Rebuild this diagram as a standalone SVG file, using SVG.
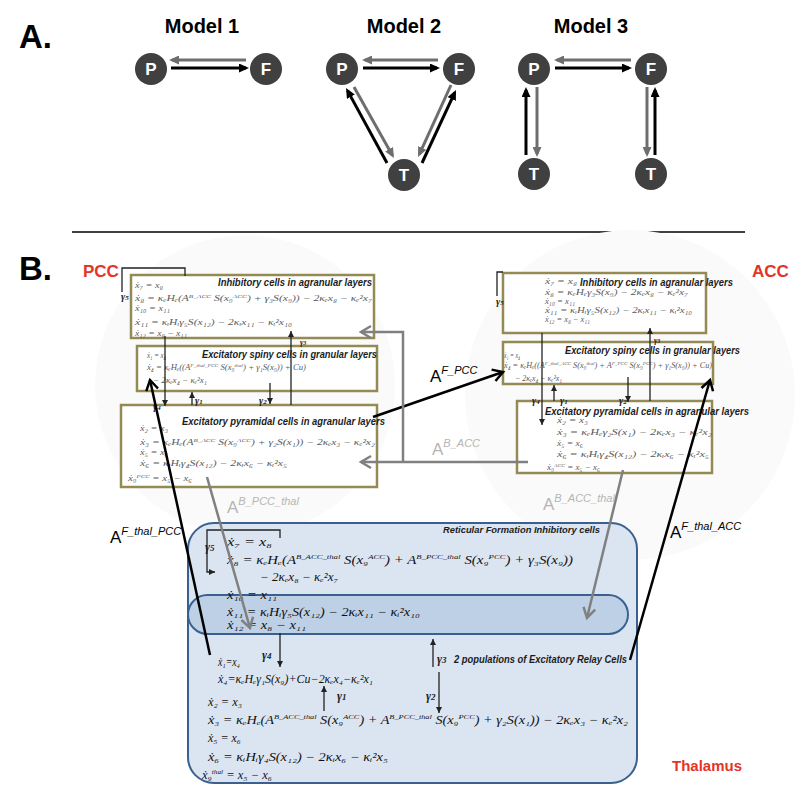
<svg xmlns="http://www.w3.org/2000/svg" width="800" height="803" viewBox="0 0 800 803">
<defs>
<style>
.lbl{font-family:"Liberation Sans",Arial,sans-serif;font-weight:bold;fill:#000}
.node circle{fill:#404040}
.node text{font-family:"Liberation Sans",Arial,sans-serif;font-weight:bold;font-size:17px;fill:#fff;text-anchor:middle}
.ak{stroke:#000;stroke-width:3;fill:none}
.ag{stroke:#6e6e6e;stroke-width:3;fill:none}
.box{fill:#fff;stroke:#948a54;stroke-width:2.5}
.ttl{font-family:"Liberation Sans",Arial,sans-serif;font-weight:bold;font-style:italic;fill:#1c1c1c}
.eq{font-family:"Liberation Serif","DejaVu Serif",serif;font-style:italic;fill:#5a5a5a;font-size:8px}
.eqT{font-family:"Liberation Serif","DejaVu Serif",serif;font-style:italic;fill:#111;font-size:12px}
.gm{font-family:"Liberation Serif","DejaVu Serif",serif;font-style:italic;font-weight:bold;fill:#222}
.thin{stroke:#222;stroke-width:1.3;fill:none}
.bk{stroke:#000;stroke-width:2.5;fill:none}
.gr{stroke:#808080;stroke-width:2.5;fill:none}
.red{font-family:"Liberation Sans",Arial,sans-serif;font-weight:bold;fill:#e3342a}
.Ab{font-family:"Liberation Sans",Arial,sans-serif;fill:#000}
.Ag{font-family:"Liberation Sans",Arial,sans-serif;fill:#b5b5b5}
</style>
<marker id="tk" viewBox="0 0 10 9" refX="7" refY="4.5" markerWidth="10" markerHeight="9" markerUnits="userSpaceOnUse" orient="auto"><path d="M0,0 L10,4.5 L0,9 z" fill="#000"/></marker>
<marker id="tg" viewBox="0 0 10 9" refX="7" refY="4.5" markerWidth="10" markerHeight="9" markerUnits="userSpaceOnUse" orient="auto"><path d="M0,0 L10,4.5 L0,9 z" fill="#6e6e6e"/></marker>
<marker id="ck" viewBox="-2 -2 16 16" refX="11" refY="6" markerWidth="16" markerHeight="16" markerUnits="userSpaceOnUse" orient="auto"><path d="M1,0 L11,6 L1,12" fill="none" stroke="#000" stroke-width="2.5"/></marker>
<marker id="cg" viewBox="-2 -2 16 16" refX="11" refY="6" markerWidth="16" markerHeight="16" markerUnits="userSpaceOnUse" orient="auto"><path d="M1,0 L11,6 L1,12" fill="none" stroke="#808080" stroke-width="2.5"/></marker>
<marker id="sm" viewBox="0 0 6 6" refX="6" refY="3" markerWidth="6" markerHeight="6" markerUnits="userSpaceOnUse" orient="auto"><path d="M0,0 L6,3 L0,6 z" fill="#222"/></marker>
</defs>
<rect width="800" height="803" fill="#fff"/>

<!-- Part A -->
<text class="lbl" x="19" y="48" font-size="33">A.</text>
<text class="lbl" x="202" y="33" font-size="20" text-anchor="middle">Model 1</text>
<text class="lbl" x="404" y="33" font-size="20" text-anchor="middle">Model 2</text>
<text class="lbl" x="591" y="33" font-size="20" text-anchor="middle">Model 3</text>

<g id="m1-P" class="node"><circle cx="151" cy="69" r="16"/><text x="151" y="75">P</text></g>
<g id="m1-F" class="node"><circle cx="266" cy="69" r="16"/><text x="266" y="75">F</text></g>
<g id="m2-P" class="node"><circle cx="342" cy="69" r="16"/><text x="342" y="75">P</text></g>
<g id="m2-F" class="node"><circle cx="459" cy="69" r="16"/><text x="459" y="75">F</text></g>
<g id="m2-T" class="node"><circle cx="404" cy="175" r="16"/><text x="404" y="181">T</text></g>
<g id="m3-P" class="node"><circle cx="534" cy="69" r="16"/><text x="534" y="75">P</text></g>
<g id="m3-F" class="node"><circle cx="651" cy="69" r="16"/><text x="651" y="75">F</text></g>
<g id="m3-T1" class="node"><circle cx="534" cy="174" r="16"/><text x="534" y="180">T</text></g>
<g id="m3-T2" class="node"><circle cx="651" cy="174" r="16"/><text x="651" y="180">T</text></g>

<line x1="72" y1="232" x2="745" y2="232" stroke="#000" stroke-width="1.5"/>

<!-- Part B -->
<text class="lbl" x="19" y="280" font-size="33">B.</text>
<circle cx="245" cy="385" r="150" fill="#fafafa"/>
<circle cx="630" cy="395" r="165" fill="#fafafa"/>
<text class="red" x="83" y="277" font-size="17">PCC</text>
<text class="red" x="752" y="277" font-size="17">ACC</text>
<text class="red" x="672" y="771" font-size="15">Thalamus</text>

<g id="pcc-inh">
<rect class="box" x="131" y="275" width="243" height="63"/>
<text class="ttl" x="218" y="286" font-size="11" textLength="154" lengthAdjust="spacingAndGlyphs">Inhibitory cells in agranular layers</text>
<text class="eq" x="135" y="287.5" textLength="28" lengthAdjust="spacingAndGlyphs">ẋ₇ = x₈</text>
<text class="eq" x="135" y="300.5" textLength="237" lengthAdjust="spacingAndGlyphs">ẋ₈ = κₑHₑ(A<tspan dy="-3" font-size="5">B_ACC</tspan><tspan dy="3"> S(x₉</tspan><tspan dy="-3" font-size="5">ACC</tspan><tspan dy="3">) + γ₃S(x₉)) − 2κₑx₈ − κₑ²x₇</tspan></text>
<text class="eq" x="135" y="310.5" textLength="35" lengthAdjust="spacingAndGlyphs">ẋ₁₀ = x₁₁</text>
<text class="eq" x="135" y="324.5" textLength="157" lengthAdjust="spacingAndGlyphs">ẋ₁₁ = κᵢHᵢγ₅S(x₁₂) − 2κᵢx₁₁ − κᵢ²x₁₀</text>
<text class="eq" x="135" y="336" textLength="52" lengthAdjust="spacingAndGlyphs">ẋ₁₂ = x₈ − x₁₁</text>
</g>

<g id="pcc-spiny">
<rect class="box" x="137" y="346" width="240" height="45"/>
<text class="ttl" x="202" y="358" font-size="11" textLength="175" lengthAdjust="spacingAndGlyphs">Excitatory spiny cells in granular layers</text>
<text class="eq" x="147" y="357.5" textLength="19" lengthAdjust="spacingAndGlyphs">ẋ₁ = x₄</text>
<text class="eq" x="147" y="369.5" textLength="159" lengthAdjust="spacingAndGlyphs">ẋ₄ = κₑHₑ((A<tspan dy="-3" font-size="5">F_thal_PCC</tspan><tspan dy="3"> S(x₉</tspan><tspan dy="-3" font-size="5">thal</tspan><tspan dy="3">) + γ₁S(x₉)) + Cu)</tspan></text>
<text class="eq" x="153" y="382.5" textLength="54" lengthAdjust="spacingAndGlyphs">− 2κₑx₄ − κₑ²x₁</text>
</g>

<g id="pcc-pyr">
<rect class="box" x="121" y="405" width="256" height="82"/>
<text class="ttl" x="182" y="425" font-size="11.5" textLength="203" lengthAdjust="spacingAndGlyphs">Excitatory pyramidal cells in agranular layers</text>
<text class="eq" x="140" y="431" textLength="28" lengthAdjust="spacingAndGlyphs">ẋ₂ = x₃</text>
<text class="eq" x="140" y="444.5" textLength="235" lengthAdjust="spacingAndGlyphs">ẋ₃ = κₑHₑ(A<tspan dy="-3" font-size="5">B_ACC</tspan><tspan dy="3"> S(x₉</tspan><tspan dy="-3" font-size="5">ACC</tspan><tspan dy="3">) + γ₂S(x₁)) − 2κₑx₃ − κₑ²x₂</tspan></text>
<text class="eq" x="140" y="454.5" textLength="28" lengthAdjust="spacingAndGlyphs">ẋ₅ = x₆</text>
<text class="eq" x="140" y="465.5" textLength="147" lengthAdjust="spacingAndGlyphs">ẋ₆ = κᵢHᵢγ₄S(x₁₂) − 2κᵢx₆ − κᵢ²x₅</text>
<text class="eq" x="128" y="480.5" textLength="64" lengthAdjust="spacingAndGlyphs">ẋ₉<tspan dy="-3" font-size="5">PCC</tspan><tspan dy="3"> = x₅ − x₆</tspan></text>
</g>

<g id="acc-inh">
<rect class="box" x="503" y="273" width="203" height="60"/>
<text class="ttl" x="580" y="286" font-size="11" textLength="153" lengthAdjust="spacingAndGlyphs">Inhibitory cells in agranular layers</text>
<text class="eq" x="545" y="283.5" textLength="32" lengthAdjust="spacingAndGlyphs">ẋ₇ = x₈</text>
<text class="eq" x="545" y="294.5" textLength="143" lengthAdjust="spacingAndGlyphs">ẋ₈ = κₑHₑγ₃S(x₉) − 2κₑx₈ − κₑ²x₇</text>
<text class="eq" x="545" y="303.5" textLength="30" lengthAdjust="spacingAndGlyphs">ẋ₁₀ = x₁₁</text>
<text class="eq" x="545" y="312.5" textLength="147" lengthAdjust="spacingAndGlyphs">ẋ₁₁ = κᵢHᵢγ₅S(x₁₂) − 2κᵢx₁₁ − κᵢ²x₁₀</text>
<text class="eq" x="545" y="321.5" textLength="45" lengthAdjust="spacingAndGlyphs">ẋ₁₂ = x₈ − x₁₁</text>
</g>

<g id="acc-spiny">
<rect class="box" x="503" y="342" width="210" height="42"/>
<text class="ttl" x="565" y="354" font-size="11" textLength="175" lengthAdjust="spacingAndGlyphs">Excitatory spiny cells in granular layers</text>
<text class="eq" x="504" y="357.5" textLength="16" lengthAdjust="spacingAndGlyphs">ẋ₁ = x₄</text>
<text class="eq" x="504" y="367.5" textLength="208" lengthAdjust="spacingAndGlyphs">ẋ₄ = κₑHₑ((A<tspan dy="-3" font-size="5">F_thal_ACC</tspan><tspan dy="3"> S(x₉</tspan><tspan dy="-3" font-size="5">thal</tspan><tspan dy="3">) + A</tspan><tspan dy="-3" font-size="5">F_PCC</tspan><tspan dy="3"> S(x₉</tspan><tspan dy="-3" font-size="5">PCC</tspan><tspan dy="3">) + γ₁S(x₉)) + Cu)</tspan></text>
<text class="eq" x="515" y="380.5" textLength="47" lengthAdjust="spacingAndGlyphs">− 2κₑx₄ − κₑ²x₁</text>
</g>

<g id="acc-pyr">
<rect class="box" x="517" y="401" width="195" height="72"/>
<text class="ttl" x="545" y="415" font-size="11.5" textLength="204" lengthAdjust="spacingAndGlyphs">Excitatory pyramidal cells in agranular layers</text>
<text class="eq" x="557" y="423" textLength="31" lengthAdjust="spacingAndGlyphs">ẋ₂ = x₃</text>
<text class="eq" x="557" y="435" textLength="155" lengthAdjust="spacingAndGlyphs">ẋ₃ = κₑHₑγ₂S(x₁) − 2κₑx₃ − κₑ²x₂</text>
<text class="eq" x="557" y="446" textLength="26" lengthAdjust="spacingAndGlyphs">ẋ₅ = x₆</text>
<text class="eq" x="557" y="457" textLength="152" lengthAdjust="spacingAndGlyphs">ẋ₆ = κᵢHᵢγ₄S(x₁₂) − 2κᵢx₆ − κᵢ²x₅</text>
<text class="eq" x="547" y="469.5" textLength="53" lengthAdjust="spacingAndGlyphs">ẋ₉<tspan dy="-3" font-size="5">ACC</tspan><tspan dy="3"> = x₅ − x₆</tspan></text>
</g>

<g id="thalamus">
<rect x="188" y="523" width="449" height="260" rx="26" fill="#dbe5f1" stroke="#3a6090" stroke-width="2"/>
<rect x="188" y="595" width="440" height="39" rx="19.5" fill="#b9cce4" fill-opacity="0.85" stroke="#3a6090" stroke-width="2"/>
<text class="ttl" x="443" y="533" font-size="9.5" textLength="157" lengthAdjust="spacingAndGlyphs">Reticular Formation Inhibitory cells</text>
<text class="ttl" x="454" y="663" font-size="11" textLength="173" lengthAdjust="spacingAndGlyphs">2 populations of Excitatory Relay Cells</text>
<text class="eqT" x="227" y="546" textLength="45" lengthAdjust="spacingAndGlyphs">ẋ₇ = x₈</text>
<text class="eqT" x="227" y="564" textLength="346" lengthAdjust="spacingAndGlyphs">ẋ₈ = κₑHₑ(A<tspan dy="-5" font-size="7">B_ACC_thal</tspan><tspan dy="5"> S(x₉</tspan><tspan dy="-5" font-size="7">ACC</tspan><tspan dy="5">) + A</tspan><tspan dy="-5" font-size="7">B_PCC_thal</tspan><tspan dy="5"> S(x₉</tspan><tspan dy="-5" font-size="7">PCC</tspan><tspan dy="5">) + γ₃S(x₉))</tspan></text>
<text class="eqT" x="260" y="581" textLength="78" lengthAdjust="spacingAndGlyphs">− 2κₑx₈ − κₑ²x₇</text>
<text class="eqT" x="227" y="599" textLength="50" lengthAdjust="spacingAndGlyphs">ẋ₁₀ = x₁₁</text>
<text class="eqT" x="227" y="616" textLength="193" lengthAdjust="spacingAndGlyphs">ẋ₁₁ = κᵢHᵢγ₅S(x₁₂) − 2κᵢx₁₁ − κᵢ²x₁₀</text>
<text class="eqT" x="227" y="629" textLength="79" lengthAdjust="spacingAndGlyphs">ẋ₁₂ = x₈ − x₁₁</text>
<text class="eqT" x="218" y="666" font-size="11" textLength="22" lengthAdjust="spacingAndGlyphs">ẋ₁=x₄</text>
<text class="eqT" x="218" y="683" font-size="11" textLength="155" lengthAdjust="spacingAndGlyphs">ẋ₄=κₑHₑγ₁S(x₉)+Cu−2κₑx₄−κₑ²x₁</text>
<text class="eqT" x="208" y="706" textLength="34" lengthAdjust="spacingAndGlyphs">ẋ₂ = x₃</text>
<text class="eqT" x="208" y="724" textLength="420" lengthAdjust="spacingAndGlyphs">ẋ₃ = κₑHₑ(A<tspan dy="-5" font-size="7">B_ACC_thal</tspan><tspan dy="5"> S(x₉</tspan><tspan dy="-5" font-size="7">ACC</tspan><tspan dy="5">) + A</tspan><tspan dy="-5" font-size="7">B_PCC_thal</tspan><tspan dy="5"> S(x₉</tspan><tspan dy="-5" font-size="7">PCC</tspan><tspan dy="5">) + γ₂S(x₁)) − 2κₑx₃ − κₑ²x₂</tspan></text>
<text class="eqT" x="208" y="742" textLength="33" lengthAdjust="spacingAndGlyphs">ẋ₅ = x₆</text>
<text class="eqT" x="208" y="761" textLength="180" lengthAdjust="spacingAndGlyphs">ẋ₆ = κᵢHᵢγ₄S(x₁₂) − 2κᵢx₆ − κᵢ²x₅</text>
<text class="eqT" x="202" y="779" textLength="70" lengthAdjust="spacingAndGlyphs">ẋ₉<tspan dy="-5" font-size="7">thal</tspan><tspan dy="5"> = x₅ − x₆</tspan></text>
<text class="gm" x="205" y="551" font-size="12">γ<tspan font-size="9">5</tspan></text>
<text class="gm" x="262" y="659" font-size="12">γ<tspan font-size="9">4</tspan></text>
<text class="gm" x="437" y="663" font-size="12">γ<tspan font-size="9">3</tspan></text>
<text class="gm" x="337" y="700" font-size="12">γ<tspan font-size="9">1</tspan></text>
<text class="gm" x="426" y="700" font-size="12">γ<tspan font-size="9">2</tspan></text>
</g>

<!-- gamma labels PCC / ACC -->
<g id="gamma-labels">
<text class="gm" x="121" y="300" font-size="10">γ<tspan font-size="7">5</tspan></text>
<text class="gm" x="153" y="410" font-size="10">γ<tspan font-size="7">4</tspan></text>
<text class="gm" x="195" y="404" font-size="10">γ<tspan font-size="7">1</tspan></text>
<text class="gm" x="259" y="404" font-size="10">γ<tspan font-size="7">2</tspan></text>
<text class="gm" x="300" y="345" font-size="8">γ<tspan font-size="6">3</tspan></text>
<text class="gm" x="654" y="343" font-size="8">γ<tspan font-size="6">3</tspan></text>
<text class="gm" x="496" y="305" font-size="10">γ<tspan font-size="7">5</tspan></text>
<text class="gm" x="532" y="404" font-size="10">γ<tspan font-size="7">4</tspan></text>
<text class="gm" x="560" y="404" font-size="10">γ<tspan font-size="7">1</tspan></text>
<text class="gm" x="619" y="404" font-size="10">γ<tspan font-size="7">2</tspan></text>
</g>

<g id="connectors">
<!-- Part A -->
<path class="ag" d="M246,60 H172" marker-end="url(#tg)"/>
<path class="ak" d="M171,68 H246" marker-end="url(#tk)"/>
<path class="ag" d="M438,60 H365" marker-end="url(#tg)"/>
<path class="ak" d="M363,68 H437" marker-end="url(#tk)"/>
<path class="ak" d="M387,163 L347.5,90.6" marker-end="url(#tk)"/>
<path class="ag" d="M354,87 L392.5,155.4" marker-end="url(#tg)"/>
<path class="ag" d="M451,85 L419.3,154.3" marker-end="url(#tg)"/>
<path class="ak" d="M422,163 L454.7,92.7" marker-end="url(#tk)"/>
<path class="ag" d="M631,60 H557" marker-end="url(#tg)"/>
<path class="ak" d="M555,68 H629" marker-end="url(#tk)"/>
<path class="ak" d="M526,155 V90" marker-end="url(#tk)"/>
<path class="ag" d="M537,87 V154" marker-end="url(#tg)"/>
<path class="ag" d="M647,87 V154" marker-end="url(#tg)"/>
<path class="ak" d="M655,155 V90" marker-end="url(#tk)"/>
<!-- Part B internal -->
<path class="thin" d="M185,276 V268 H122 V292"/>
<path class="thin" d="M165,336 V406" marker-end="url(#sm)"/>
<path class="thin" d="M192,405 V392" marker-end="url(#sm)"/>
<path class="thin" d="M270,383 V404" marker-end="url(#sm)"/>
<path class="thin" d="M291,405 V331" marker-end="url(#sm)"/>
<path class="thin" d="M503,272 H497 V296"/>
<path class="thin" d="M542,333 V425" marker-end="url(#sm)"/>
<path class="thin" d="M554,401 V385" marker-end="url(#sm)"/>
<path class="thin" d="M628,377 V402" marker-end="url(#sm)"/>
<path class="thin" d="M650,401 V328" marker-end="url(#sm)"/>
<path class="thin" d="M280,538 V530 H207 V572 H215" marker-end="url(#sm)"/>
<path class="thin" d="M280,633 V667" marker-end="url(#sm)"/>
<path class="thin" d="M433,667 V639" marker-end="url(#sm)"/>
<path class="thin" d="M324,711 V686" marker-end="url(#sm)"/>
<path class="thin" d="M439,672 V713" marker-end="url(#sm)"/>
<!-- Part B extrinsic -->
<path class="bk" d="M373,417 L503,372" marker-end="url(#ck)"/>
<path class="gr" d="M528,462 H361" marker-end="url(#cg)"/>
<path class="gr" d="M403,462 V332 H361" marker-end="url(#cg)"/>
<path class="gr" d="M207,477 L250,628" marker-end="url(#cg)"/>
<path class="gr" d="M623,470 L587,618" marker-end="url(#cg)"/>
<path class="bk" d="M210,655 L150,380" marker-end="url(#ck)"/>
<path class="bk" d="M630,660 L710,380" marker-end="url(#ck)"/>
</g>

<g id="connector-labels">
<text class="Ab" x="430" y="382" font-size="17">A<tspan font-size="11" dy="-8" font-style="italic">F_PCC</tspan></text>
<text class="Ag" x="432" y="455" font-size="17">A<tspan font-size="11" dy="-8" font-style="italic">B_ACC</tspan></text>
<text class="Ab" x="110" y="543" font-size="17">A<tspan font-size="11" dy="-8" font-style="italic">F_thal_PCC</tspan></text>
<text class="Ag" x="227" y="513" font-size="17">A<tspan font-size="11" dy="-8" font-style="italic">B_PCC_thal</tspan></text>
<text class="Ab" x="670" y="538" font-size="17">A<tspan font-size="11" dy="-8" font-style="italic">F_thal_ACC</tspan></text>
<text class="Ag" x="543" y="510" font-size="17">A<tspan font-size="11" dy="-8" font-style="italic">B_ACC_thal</tspan></text>
</g>
</svg>
